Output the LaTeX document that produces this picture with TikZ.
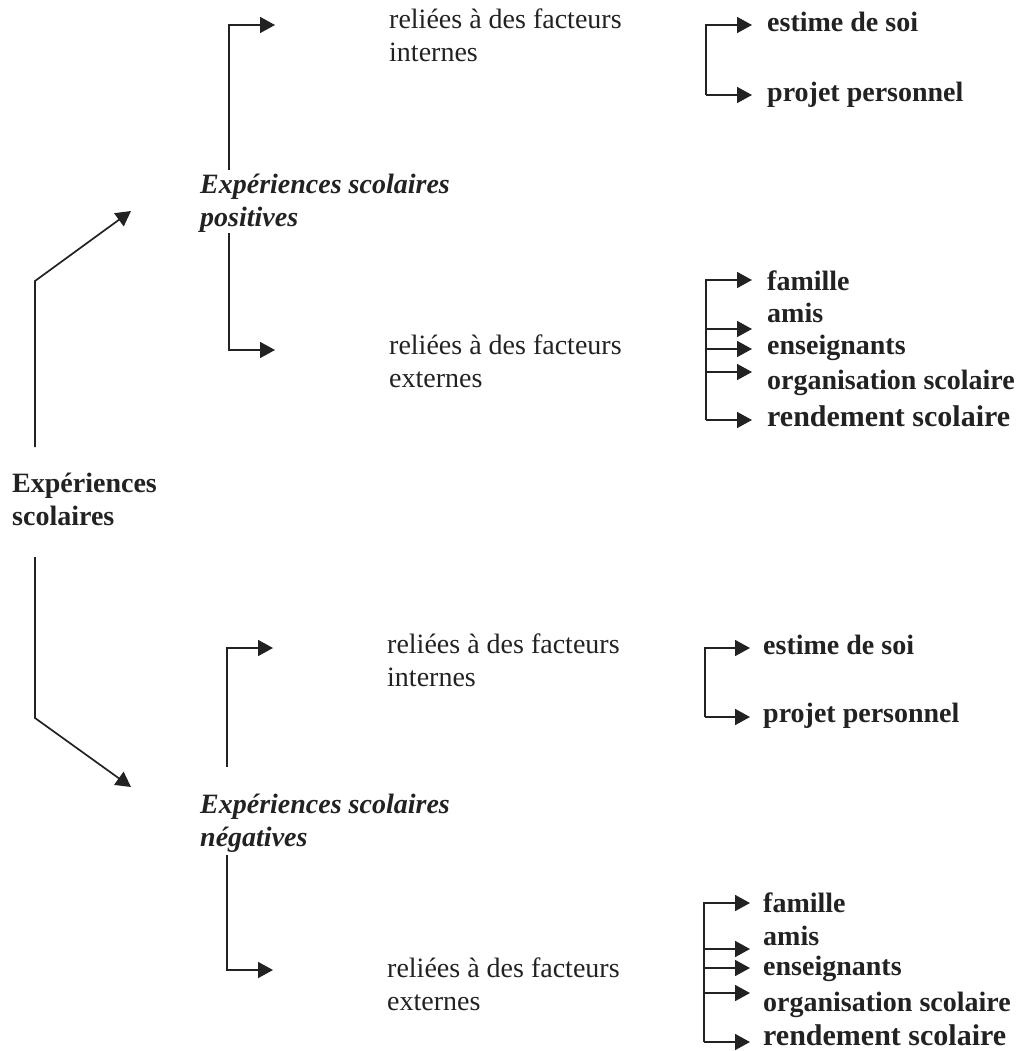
\documentclass[tikz,border=0pt]{standalone}
\usepackage{fontspec}
\setmainfont{Liberation Serif}
\usetikzlibrary{arrows.meta}
\definecolor{ink}{HTML}{222222}
\tikzset{
  txt/.style={anchor=base west, inner sep=0pt, align=left, text=ink,
    font=\fontsize{28}{33}\selectfont},
  item/.style={txt, font=\fontsize{28}{33}\selectfont\bfseries},
  bigitem/.style={txt, font=\fontsize{30}{33}\selectfont\bfseries},
  link/.style={draw=ink, line width=1.7pt, -{Triangle[length=15pt,width=16pt]}}
}
\begin{document}
\begin{tikzpicture}[x=1pt,y=-1pt]
  \useasboundingbox (0,0) rectangle (1019,1051);
  % Root and its two branches (base = last line)
  \node[item] (root) at (12,525) {Expériences\\scolaires};
  \coordinate (rootup) at (35,447);
  \coordinate (rootupbend) at (35,281);
  \coordinate (postip) at (131,211);
  \coordinate (rootdown) at (35,557);
  \coordinate (rootdownbend) at (35,718);
  \coordinate (negtip) at (131,787);
  \draw[link] (rootup) -- (rootupbend) -- (postip);
  \draw[link] (rootdown) -- (rootdownbend) -- (negtip);
  % Positive experiences
  \node[item, font=\fontsize{28}{33}\selectfont\bfseries\itshape] (pos) at (200,226)
    {Expériences scolaires\\positives};
  \coordinate (posup) at (229,170);
  \coordinate (posuptip) at (275,25);
  \coordinate (posdown) at (229,233);
  \coordinate (posdowntip) at (275,350);
  \draw[link] (posup) |- (posuptip);
  \draw[link] (posdown) |- (posdowntip);
  \node[txt] (posint) at (389,62) {reliées à des facteurs\\internes};
  \node[txt] (posext) at (389,387) {reliées à des facteurs\\externes};
  % Positive, internal factors
  \node[item] (piestime) at (767,32) {estime de soi};
  \node[item] (piprojet) at (767,102) {projet personnel};
  \coordinate (pib) at (706,95);
  \coordinate (pi1) at (752,25);
  \coordinate (pi2) at (752,95);
  \draw[link] (pib) |- (pi1);
  \draw[link] (pib) -- (pi2);
  % Positive, external factors
  \node[item] (pefamille) at (767,290) {famille};
  \node[item] (peamis) at (767,322) {amis};
  \node[item] (peens) at (767,354) {enseignants};
  \node[item] (peorg) at (767,389) {organisation scolaire};
  \node[bigitem] (perend) at (767,426) {rendement scolaire};
  \coordinate (peb) at (706,420);
  \foreach \n/\y in {pe1/280, pe2/329, pe3/349, pe4/372, pe5/420}
    \coordinate (\n) at (752,\y);
  \draw[link] (peb) |- (pe1);
  \foreach \n in {pe2,pe3,pe4,pe5}
    \draw[link] (peb |- \n) -- (\n);
  % Negative experiences
  \node[item, font=\fontsize{28}{33}\selectfont\bfseries\itshape] (neg) at (200,846)
    {Expériences scolaires\\négatives};
  \coordinate (negup) at (227,767);
  \coordinate (neguptip) at (273,648);
  \coordinate (negdown) at (227,855);
  \coordinate (negdowntip) at (273,970);
  \draw[link] (negup) |- (neguptip);
  \draw[link] (negdown) |- (negdowntip);
  \node[txt] (negint) at (387,686) {reliées à des facteurs\\internes};
  \node[txt] (negext) at (387,1010) {reliées à des facteurs\\externes};
  % Negative, internal factors
  \node[item] (niestime) at (763,654) {estime de soi};
  \node[item] (niprojet) at (763,722) {projet personnel};
  \coordinate (nib) at (705,717);
  \coordinate (ni1) at (750,648);
  \coordinate (ni2) at (750,717);
  \draw[link] (nib) |- (ni1);
  \draw[link] (nib) -- (ni2);
  % Negative, external factors
  \node[item] (nefamille) at (763,912) {famille};
  \node[item] (neamis) at (763,945) {amis};
  \node[item] (neens) at (763,975) {enseignants};
  \node[item] (neorg) at (763,1011) {organisation scolaire};
  \node[bigitem] (nerend) at (763,1045) {rendement scolaire};
  \coordinate (neb) at (704,1042);
  \foreach \n/\y in {ne1/903, ne2/949, ne3/968, ne4/993, ne5/1042}
    \coordinate (\n) at (750,\y);
  \draw[link] (neb) |- (ne1);
  \foreach \n in {ne2,ne3,ne4,ne5}
    \draw[link] (neb |- \n) -- (\n);
\end{tikzpicture}
\end{document}
